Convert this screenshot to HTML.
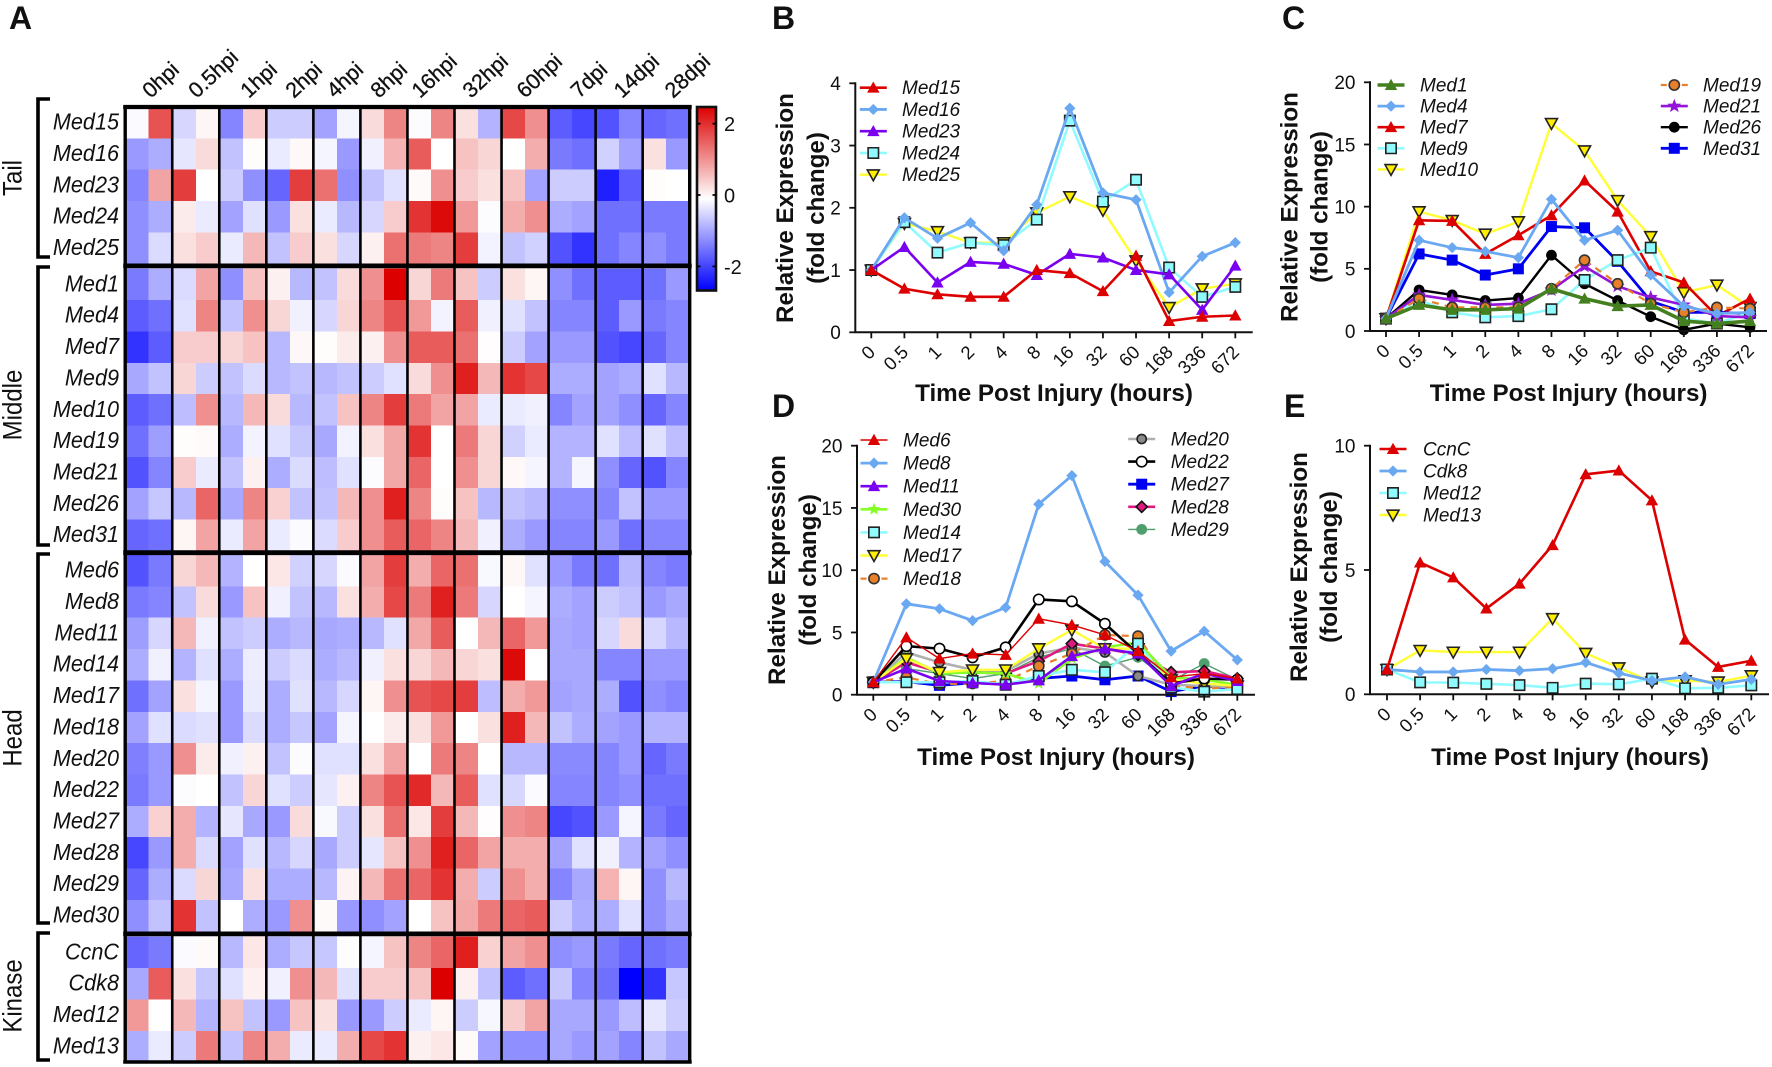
<!DOCTYPE html>
<html lang="en">
<head>
<meta charset="utf-8">
<title>Mediator subunit expression after injury</title>
<style>
html,body{margin:0;padding:0;background:#fff;width:1772px;height:1067px;overflow:hidden}
svg{display:block;font-family:"Liberation Sans",Arial,sans-serif}
text{fill:#111}
</style>
</head>
<body>
<svg id="figure" xmlns="http://www.w3.org/2000/svg" width="1772" height="1067" viewBox="0 0 1772 1067">
  <rect width="1772" height="1067" fill="#fff"/>
  <text x="9" y="29" font-size="32" font-weight="700">A</text>
  <text x="772" y="29" font-size="32" font-weight="700">B</text>
  <text x="1282" y="29" font-size="32" font-weight="700">C</text>
  <text x="772" y="417" font-size="32" font-weight="700">D</text>
  <text x="1284" y="417" font-size="32" font-weight="700">E</text>
</svg>
<script>
// ---------- Heatmap data ----------
const heatColumns = ['0hpi','0.5hpi','1hpi','2hpi','4hpi','8hpi','16hpi','32hpi','60hpi','7dpi','14dpi','28dpi'];
const colorbarTicks = [2,0,-2];

const tailGenes = ['Med15','Med16','Med23','Med24','Med25'];
const tailValues = [
[-0.05,1.7,-0.4,0.1,-1.2,0.5,-0.5,-0.5,-0.9,-0.1,0.35,1.2,-0.03,1.2,0.3,-0.75,1.8,1.1,-1.6,-1.8,-1.7,-1.2,-1.5,-1.4],
[-1.0,-0.8,-0.25,0.35,-0.6,0.03,-0.2,0.07,-0.1,-1.0,-0.15,0.75,1.6,0,0.6,0.4,0,0.8,-1.3,-1.4,-0.45,-0.9,0.3,-1.0],
[-1.2,0.9,1.9,0,-0.5,-1.1,-1.5,1.9,1.4,-1.1,-0.6,-0.3,0.05,1.1,0.5,0.3,0.6,-0.9,-0.5,-0.5,-2.2,-1.6,0.03,0],
[-1.1,-0.8,0.2,-0.2,-0.9,-0.3,-1.0,0.3,-0.2,-0.7,-0.4,0.5,2.0,2.4,1.0,-0.03,0.8,1.1,-0.8,-0.9,-1.4,-1.4,-1.3,-1.3],
[-1.1,-0.35,0.3,0.5,-0.2,0.7,-0.6,0.5,0.3,-0.4,0.15,1.4,1.3,1.2,1.9,-0.12,-0.6,-0.45,-1.7,-2.0,-1.4,-1.2,-1.1,-1.3]
];

const middleGenes = ['Med1','Med4','Med7','Med9','Med10','Med19','Med21','Med26','Med31'];
const middleValues = [
[-1.3,-0.8,-0.35,0.9,-1.1,0.6,0.15,-0.7,-0.6,0.35,1.1,2.5,0.4,1.3,0.6,-0.5,0.3,0.1,-1.1,-1.4,-1.6,-1.6,-1.4,-1.0],
[-1.6,-1.4,-0.3,1.2,-0.6,1.1,0.4,-0.15,-0.4,0.4,1.2,1.7,1.0,-0.12,1.6,-0.15,-0.3,-0.6,-1.2,-1.2,-1.6,-1.0,-1.3,-1.2],
[-2.0,-1.6,0.5,0.5,0.4,0.6,-0.7,0.08,0.03,0.2,0.15,1.1,1.6,1.6,1.4,0.02,-0.5,-0.9,-1.0,-1.0,-1.7,-1.8,-1.5,-1.2],
[-0.85,-0.6,0.4,-0.5,-0.6,-0.35,-0.7,-0.6,-0.7,-0.6,-0.5,-0.3,0.35,1.1,2.2,0.7,2.0,1.8,-0.8,-0.8,-0.9,-0.8,-0.3,-0.7],
[-1.6,-1.4,-0.65,1.1,-0.7,0.7,0.35,-0.7,-0.6,0.6,1.2,1.9,1.3,0.9,0.9,-0.2,-0.2,-0.15,-1.2,-0.9,-0.9,-1.1,-1.5,-1.2],
[-1.4,-0.95,0.03,0.05,-0.8,-0.12,-0.3,-0.55,-0.85,-0.12,0.3,0.85,2.0,0,1.3,0.4,-0.45,-0.2,-0.75,-0.75,-0.3,-0.65,-0.3,-0.65],
[-1.7,-1.2,0.5,-0.2,-0.6,0.15,-0.8,-0.35,-0.65,-0.3,-0.03,0.85,1.5,0,1.1,0.4,0.07,-0.1,-0.75,-0.1,-1.1,-1.5,-1.7,-1.2],
[-0.9,-0.55,-0.7,1.5,-0.85,1.2,0.45,-0.6,-0.6,0.7,1.1,2.2,1.2,0.03,0.6,-0.7,-0.6,-0.7,-1.1,-1.1,-1.2,-0.6,-1.0,-1.0],
[-1.5,-1.4,0.1,0.9,-0.2,0.9,-0.2,-0.05,-0.35,0.5,1.1,1.6,1.5,1.2,0.7,-0.15,-0.8,-1.0,-1.2,-1.2,-1.0,-1.4,-1.2,-1.2]
];

const headGenes = ['Med6','Med8','Med11','Med14','Med17','Med18','Med20','Med22','Med27','Med28','Med29','Med30'];
const headValues = [
[-1.7,-1.3,0.4,0.7,-0.75,0,0.25,-0.45,-0.4,-0.05,0.9,1.9,0.8,1.5,1.4,-0.07,0.08,-0.3,-1.0,-1.3,-1.4,-0.7,-1.2,-1.3],
[-1.3,-1.2,-0.6,0.35,-1.0,0.6,-0.15,-0.6,-0.7,0.3,0.8,1.8,1.3,2.2,1.3,-0.4,0,-0.1,-0.8,-0.9,-0.5,-0.6,-1.0,-0.85],
[-0.95,-0.4,0.7,-0.15,-0.6,-0.5,-0.8,-0.7,-0.85,-0.8,-0.7,-0.3,0.85,1.6,0,0.7,1.5,1.0,-0.85,-0.9,-0.4,0.35,-0.4,-0.7],
[-0.8,-0.15,-0.75,-0.3,-0.8,-0.18,-0.5,-0.35,-0.8,-0.7,-0.15,0.3,0.4,0.7,0.4,0.3,2.4,0,-0.85,-0.85,-1.2,-1.2,-1.0,-1.0],
[-1.4,-0.9,0.3,-0.1,-1.0,-0.2,-0.8,-0.3,-0.7,-0.4,0.1,1.1,1.7,1.8,1.9,-0.65,0.8,1.0,-0.9,-0.85,-0.8,-1.7,-1.1,-1.2],
[-0.9,-0.3,-0.35,-0.3,-1.0,-0.35,-0.8,-0.55,-0.9,-0.1,0,0.2,0.3,1.0,0,0.3,2.2,0.7,-0.6,-0.8,-0.9,-1.0,-0.75,-0.75],
[-1.25,-1.0,1.1,0.2,-0.15,0.15,-0.6,-0.03,-0.3,-0.3,0.3,0.9,0,1.3,1.2,0,-0.7,-0.7,-1.15,-1.15,-1.2,-1.0,-1.5,-1.3],
[-1.3,-1.0,-0.03,0,-0.6,0.4,-0.3,-0.5,-0.25,0.15,1.2,1.7,2.1,0.7,1.6,-0.3,-0.4,-0.05,-1.2,-1.2,-1.2,-1.1,-1.4,-1.4],
[-0.8,0.45,0.8,-0.75,-0.25,-0.85,-1.0,0.35,-0.07,-0.5,0.3,1.4,0.25,1.9,0.7,0.02,1.1,1.2,-1.8,-1.7,-1.0,-0.1,-1.3,-1.5],
[-1.8,-1.0,0.8,-0.35,-0.9,-0.3,-0.7,-0.4,-0.85,-0.5,-0.25,0.6,1.1,2.2,1.5,0.9,0.8,0.8,-0.9,-0.3,-0.15,-0.75,-0.9,-1.1],
[-1.5,-0.8,-0.35,0.4,-0.85,0.3,-0.8,-0.8,-0.7,0.12,0.7,1.4,1.5,2.0,0.8,-0.5,1.1,0.8,-1.2,-0.85,0.75,0.1,-1.1,-0.7],
[-1.1,-0.6,2.0,-0.6,0,-0.8,-1.0,1.1,0.05,-1.0,-1.1,-0.9,0,0.6,0.85,1.3,1.5,1.6,-0.5,-0.8,-0.8,-0.3,-1.1,-0.85]
];

const kinaseGenes = ['CcnC','Cdk8','Med12','Med13'];
const kinaseValues = [
[-1.5,-1.3,-0.04,0.05,-0.7,0.25,-0.8,-0.55,-0.55,-0.02,-0.1,0.6,1.2,1.5,2.2,0.45,0.9,1.1,-1.1,-1.0,-1.3,-1.5,-1.4,-1.3],
[-0.85,1.6,0.3,-0.55,-0.3,0.15,-0.15,1.1,0.7,-0.3,0.5,0.5,0.6,2.5,0.15,-0.6,-1.6,-1.4,-0.55,-1.2,-1.4,-2.5,-2.0,-0.55],
[1.0,0,0.7,-0.75,0.6,-0.6,-1.0,0.6,0.3,-1.0,-1.0,-0.5,-0.2,0.1,-0.5,-0.08,0.5,0.9,-0.85,-0.85,-1.0,-0.65,-0.25,-0.5],
[-0.8,-0.2,-0.5,1.3,-0.6,1.2,0.8,-0.2,-0.2,0.8,1.8,2.0,0.15,0.25,0.05,-0.9,-1.1,-1.1,-0.85,-1.0,-0.9,-1.2,-0.6,-0.85]
];

// ---------- Line chart data ----------
const timeLabels = ['0','0.5','1','2','4','8','16','32','60','168','336','672'];
const ticksTo4 = [0,1,2,3,4];
const ticksTo20 = [0,5,10,15,20];
const ticksTo10 = [0,5,10];

const bMed15 = [1,0.7,0.61,0.57,0.57,1.0,0.95,0.66,1.23,0.18,0.25,0.27];
const bMed16 = [1,1.84,1.51,1.76,1.31,2.05,3.6,2.24,2.13,0.64,1.22,1.44];
const bMed23 = [1,1.37,0.8,1.13,1.1,0.92,1.26,1.2,1.0,0.93,0.36,1.07];
const bMed24 = [1,1.77,1.28,1.44,1.4,1.81,3.4,2.1,2.45,1.04,0.57,0.73];
const bMed25 = [1,1.75,1.62,1.44,1.44,1.92,2.18,1.96,1.15,0.4,0.7,0.78];

const cMed1 = [1,2.1,1.7,1.7,1.8,3.4,2.6,2.0,2.1,0.8,0.6,0.8];
const cMed4 = [1,7.3,6.7,6.4,5.9,10.6,7.3,8.1,4.5,2.0,1.4,1.5];
const cMed7 = [1,8.9,8.85,6.2,7.7,9.3,12.1,9.6,4.8,3.9,1.2,2.6];
const cMed9 = [1,2.5,1.5,1.1,1.2,1.75,4.1,5.7,6.7,1.0,0.6,1.5];
const cMed10 = [1,9.6,8.9,7.8,8.8,16.7,14.5,10.5,7.6,3.1,3.7,1.9];
const cMed19 = [1,2.6,1.9,1.9,1.9,3.4,5.7,3.8,2.2,1.5,1.9,1.8];
const cMed21 = [1,2.9,2.5,2.1,2.2,3.3,5.2,3.6,2.7,2.1,1.2,1.1];
const cMed26 = [1,3.3,2.9,2.45,2.65,6.1,3.8,2.45,1.15,0.1,0.6,0.3];
const cMed31 = [1,6.2,5.7,4.5,5.0,8.4,8.3,5.6,2.4,1.5,1.5,1.4];

const dMed6 = [1,4.6,2.9,3.3,3.2,6.1,5.6,4.8,3.5,1.4,1.7,1.3];
const dMed8 = [1,7.3,6.9,5.95,7.0,15.3,17.6,10.7,8.0,3.5,5.1,2.8];
const dMed11 = [1,2.1,1.1,0.95,0.8,1.15,3.1,3.7,3.3,0.7,1.7,1.1];
const dMed30 = [1,3.0,1.7,1.8,1.7,0.9,2.9,3.8,4.2,1.4,1.2,0.8];
const dMed14 = [1,1.0,1.0,1.1,0.8,1.5,2.0,1.8,4.1,0.6,0.25,0.45];
const dMed17 = [1,2.9,1.8,2.0,2.0,3.7,5.2,3.7,3.7,1.2,0.9,0.7];
const dMed18 = [1,1.4,0.85,0.9,1.1,2.3,3.3,4.8,4.7,0.7,0.5,0.6];
const dMed20 = [1,3.4,2.6,2.0,1.9,3.3,3.8,3.4,1.5,0.8,0.7,0.6];
const dMed22 = [1,3.9,3.7,3.0,3.8,7.65,7.5,5.7,3.3,0.9,1.3,1.2];
const dMed27 = [1,1.05,0.75,0.95,0.85,1.3,1.5,1.2,1.5,0.25,0.7,0.5];
const dMed28 = [1,2.6,1.8,1.8,1.7,2.7,4.1,3.7,3.2,1.8,1.9,1.3];
const dMed29 = [1,2.1,1.7,1.3,1.7,3.0,3.7,2.3,3.0,1.1,2.5,1.2];

const eCcnC = [1,5.3,4.7,3.45,4.45,6.0,8.85,9.0,7.8,2.2,1.1,1.35];
const eCdk8 = [1,0.9,0.9,1.0,0.95,1.03,1.28,0.85,0.55,0.7,0.4,0.6];
const eMed12 = [1,0.48,0.47,0.42,0.37,0.26,0.43,0.4,0.63,0.24,0.26,0.36];
const eMed13 = [1,1.77,1.7,1.7,1.7,3.05,1.65,1.07,0.5,0.55,0.5,0.75];

// ---------- Helpers ----------
const SVGNS = 'http://www.w3.org/2000/svg';
const root = document.getElementById('figure');
function make(tag, attrs, parent, text) {
  const el = document.createElementNS(SVGNS, tag);
  for (const k in attrs) el.setAttribute(k, attrs[k]);
  if (text !== undefined) el.textContent = text;
  (parent || root).appendChild(el);
  return el;
}
function slug(s) { return s.toLowerCase().replace(/[^a-z0-9]+/g, '-'); }

// ---------- Heatmap ----------
const heatLeft = 125.2, heatRight = 689.7, heatTop = 107, heatBottom = 1062;
const groupWidth = (heatRight - heatLeft) / heatColumns.length;
const cellWidth = groupWidth / 2;
const rowHeight = 31.35;
function heatX(c) { return heatLeft + c * cellWidth; }
function heatColor(v) {
  const t = Math.min(1, Math.abs(v) / 2.5);
  const fade = Math.round(255 * (1 - t));
  if (v >= 0) return 'rgb(' + Math.round(255 - 35 * t) + ',' + fade + ',' + fade + ')';
  return 'rgb(' + fade + ',' + fade + ',255)';
}
const heatGroup = make('g', {});



function drawHeatGroup(title, genes, values, startY, titleY, bracketTop, bracketBottom) {
  const g = make('g', {}, heatGroup);
  
  
  values.forEach(function (row, r) {
    const y = startY + r * rowHeight;
    row.forEach(function (v, c) {
      const cell = make('rect', {x: heatX(c), y: y, width: cellWidth + 0.4, height: rowHeight + 0.4, fill: heatColor(v), 'shape-rendering': 'crispEdges'}, g);
      
      
    });
    const label = make('text', {transform: 'translate(119,' + (y + rowHeight / 2 + 7) + ') scale(0.94,1)', 'text-anchor': 'end', 'font-size': 23, 'font-style': 'italic'}, g, genes[r]);
    
    
  });
  const bracket = make('path', {d: 'M50 ' + bracketTop + 'H38V' + bracketBottom + 'H50', fill: 'none', stroke: '#000', 'stroke-width': 3.6}, g);
  
  
  const t = make('text', {transform: 'translate(21.5,' + titleY + ') rotate(-90) scale(1,1.1)', 'text-anchor': 'middle', 'font-size': 24}, g, title);
  
  
}
drawHeatGroup('Tail', tailGenes, tailValues, 107, 178, 99, 257);
drawHeatGroup('Middle', middleGenes, middleValues, 268.7, 405, 267, 545);
drawHeatGroup('Head', headGenes, headValues, 555, 738, 554, 923);
drawHeatGroup('Kinase', kinaseGenes, kinaseValues, 936.7, 996, 933, 1060);

// separators and frame
heatColumns.forEach(function (name, i) {
  if (i > 0) {
    const x = heatLeft + i * groupWidth;
    const sep = make('line', {x1: x, x2: x, y1: heatTop, y2: heatBottom, stroke: '#000', 'stroke-width': 2.6}, heatGroup);
    
    
  }
});
[heatLeft, heatRight].forEach(function (x, i) {
  const edge = make('line', {x1: x, x2: x, y1: heatTop - 2, y2: heatBottom + 1, stroke: '#000', 'stroke-width': 3.4}, heatGroup);
  
  
});
[[107, 4.2], [265.9, 4.8], [552.7, 4.8], [933.9, 4.8], [1062, 3.6]].forEach(function (d, i) {
  const bar = make('line', {x1: heatLeft - 2, x2: heatRight + 2, y1: d[0], y2: d[0], stroke: '#000', 'stroke-width': d[1]}, heatGroup);
  
  
});

// column labels
heatColumns.forEach(function (name, i) {
  const extra = [1, 0, 5, 3, -3, -6, -12, -8, -1, 6, 2, 6][i];
  const x = heatLeft + i * groupWidth + 24.5 + extra;
  const t = make('text', {transform: 'translate(' + x + ',99) rotate(-43)', 'font-size': 21.5, stroke: '#111', 'stroke-width': 0.3}, heatGroup, name);
  
  
});

// colorbar
const defs = make('defs', {});
const grad = make('linearGradient', {id: 'cbGrad', x1: 0, x2: 0, y1: 0, y2: 1}, defs);
make('stop', {offset: '0', 'stop-color': '#dc0000'}, grad);
make('stop', {offset: '0.5', 'stop-color': '#ffffff'}, grad);
make('stop', {offset: '1', 'stop-color': '#0000ff'}, grad);
const cbTop = 107, cbBottom = 290.5, cbLeft = 697, cbRight = 716;
function cbY(v) { return 195 - v * 35.7; }
const cbG = make('g', {});


const cbRect = make('rect', {x: cbLeft, y: cbTop, width: cbRight - cbLeft, height: cbBottom - cbTop, fill: 'url(#cbGrad)', stroke: '#111', 'stroke-width': 2.6}, cbG);


colorbarTicks.forEach(function (v) {
  const tick = make('path', {d: 'M' + cbLeft + ' ' + cbY(v) + 'h3.5M' + cbRight + ' ' + cbY(v) + 'h-3.5', stroke: '#000', 'stroke-width': 1.8}, cbG);
  
  
  const lab = make('text', {x: 724, y: cbY(v) + 7.5, 'font-size': 20}, cbG, String(v));
  
  
});

// ---------- Series styles ----------
const RED = '#dc0000', SKY = '#6aa8f2', VIOLET = '#7a00f0', CYAN = '#8ffbff', YEL = '#ffee00', LINEY = '#ffff33';
const styles = {
  red: {line: RED, w: 2.6, fill: RED, edge: 'none', shape: 'up', r: 6.2},
  redThin: {line: RED, w: 1.4, fill: RED, edge: 'none', shape: 'up', r: 6.2},
  sky: {line: SKY, w: 2.8, fill: SKY, edge: 'none', shape: 'diamond', r: 5.6},
  violet: {line: VIOLET, w: 2.6, fill: VIOLET, edge: 'none', shape: 'up', r: 6.2},
  cyan: {line: CYAN, w: 2.6, fill: CYAN, edge: '#222', shape: 'square', r: 5.2},
  yellow: {line: LINEY, w: 2.4, fill: YEL, edge: '#222', shape: 'down', r: 6},
  green: {line: '#44801f', w: 3.6, fill: '#44801f', edge: 'none', shape: 'up', r: 6.2},
  orange: {line: '#e8802a', w: 2.2, dash: '7 6', fill: '#e8802a', edge: '#333', shape: 'circle', r: 5.1},
  starViolet: {line: '#9414d8', w: 2.6, fill: '#9414d8', edge: 'none', shape: 'star', r: 7.4},
  black: {line: '#000', w: 2.4, fill: '#000', edge: 'none', shape: 'circle', r: 5.4},
  blue: {line: '#0000f0', w: 2.8, fill: '#0000f0', edge: 'none', shape: 'square', r: 5.5},
  grey: {line: '#b0b0b0', w: 2.6, fill: '#8a8a8a', edge: '#222', shape: 'circle', r: 4.6},
  white: {line: '#000', w: 2.6, fill: '#fff', edge: '#000', shape: 'circle', r: 5.2},
  magenta: {line: '#e0187f', w: 2.6, fill: '#e0187f', edge: '#111', shape: 'diamond', r: 5.6},
  teal: {line: '#4f9e6d', w: 1.4, fill: '#4f9e6d', edge: 'none', shape: 'circle', r: 5.4},
  lime: {line: '#86ff28', w: 2.6, fill: '#86ff28', edge: 'none', shape: 'star', r: 6.6}
};
function markerPath(s, x, y) {
  const r = s.r;
  if (s.shape === 'up') return 'M' + x + ' ' + (y - r) + 'L' + (x + r) + ' ' + (y + r * 0.8) + 'L' + (x - r) + ' ' + (y + r * 0.8) + 'Z';
  if (s.shape === 'down') return 'M' + x + ' ' + (y + r) + 'L' + (x + r) + ' ' + (y - r * 0.8) + 'L' + (x - r) + ' ' + (y - r * 0.8) + 'Z';
  if (s.shape === 'diamond') return 'M' + x + ' ' + (y - r) + 'L' + (x + r) + ' ' + y + 'L' + x + ' ' + (y + r) + 'L' + (x - r) + ' ' + y + 'Z';
  if (s.shape === 'square') return 'M' + (x - r) + ' ' + (y - r) + 'h' + (2 * r) + 'v' + (2 * r) + 'h' + (-2 * r) + 'Z';
  if (s.shape === 'star') {
    let d = '';
    for (let i = 0; i < 10; i++) {
      const a = -Math.PI / 2 + i * Math.PI / 5;
      const q = i % 2 ? r * 0.42 : r;
      d += (i ? 'L' : 'M') + (x + q * Math.cos(a)).toFixed(2) + ' ' + (y + q * Math.sin(a)).toFixed(2);
    }
    return d + 'Z';
  }
  return 'M' + (x - r) + ' ' + y + 'a' + r + ' ' + r + ' 0 1 0 ' + (2 * r) + ' 0a' + r + ' ' + r + ' 0 1 0 ' + (-2 * r) + ' 0Z';
}
function markerAttrs(s, x, y) {
  return {d: markerPath(s, x, y), fill: s.fill, stroke: s.edge, 'stroke-width': s.edge === 'none' ? 0 : 1.6};
}

// ---------- Line panels ----------
function drawPanel(cfg) {
  const g = make('g', {});
  
  
  const step = (cfg.x672 - cfg.x0) / (timeLabels.length - 1);
  const xScale = function (i) { return cfg.x0 + i * step; };
  const yScale = function (v) { return cfg.yZero - (v / cfg.yMax) * (cfg.yZero - cfg.yTop); };

  cfg.series.forEach(function (entry) {
    const name = entry[0], vals = entry[1], s = styles[entry[2]];
    const sg = make('g', {}, g);
    
    
    const pts = vals.map(function (v, i) { return xScale(i).toFixed(2) + ',' + yScale(v).toFixed(2); }).join(' ');
    const attrs = {points: pts, fill: 'none', stroke: s.line, 'stroke-width': s.w, 'stroke-linejoin': 'round'};
    if (s.dash) attrs['stroke-dasharray'] = s.dash;
    const line = make('polyline', attrs, sg);
    
    
    vals.forEach(function (v, i) {
      const m = make('path', markerAttrs(s, xScale(i), yScale(v)), sg);
      
      
    });
  });

  const axis = make('path', {d: 'M' + cfg.axisX + ' ' + (cfg.yTop - 1) + 'V' + cfg.yZero + 'H' + cfg.axisEnd, fill: 'none', stroke: '#111', 'stroke-width': 2}, g);
  
  

  cfg.ticks.forEach(function (v) {
    const y = yScale(v);
    const tick = make('line', {x1: cfg.axisX - 6, x2: cfg.axisX, y1: y, y2: y, stroke: '#111', 'stroke-width': 1.8}, g);
    
    
    const lab = make('text', {x: cfg.axisX - 14.5, y: y + 6.8, 'text-anchor': 'end', 'font-size': 19}, g, String(v));
    
    
  });
  timeLabels.forEach(function (name, i) {
    const x = xScale(i);
    const tick = make('line', {x1: x, x2: x, y1: cfg.yZero, y2: cfg.yZero + 6, stroke: '#111', 'stroke-width': 1.8}, g);
    
    
    const lab = make('text', {transform: 'translate(' + (x + 5) + ',' + (cfg.yZero + 21) + ') rotate(-45)', 'text-anchor': 'end', 'font-size': 18.5}, g, name);
    
    
  });

  const xt = make('text', {x: cfg.xTitleX, y: cfg.xTitleY, 'text-anchor': 'middle', 'font-size': 24.2, 'font-weight': 700}, g, 'Time Post Injury (hours)');
  
  
  const yt1 = make('text', {transform: 'translate(' + cfg.yTitleX1 + ',' + cfg.yTitleY + ') rotate(-90)', 'text-anchor': 'middle', 'font-size': 24.2, 'font-weight': 700}, g, 'Relative Expression');
  
  
  const yt2 = make('text', {transform: 'translate(' + cfg.yTitleX2 + ',' + cfg.yTitleY + ') rotate(-90)', 'text-anchor': 'middle', 'font-size': 24.2, 'font-weight': 700}, g, '(fold change)');
  
  

  cfg.legend.forEach(function (col) {
    col.names.forEach(function (pair, r) {
      const name = pair[0], s = styles[pair[1]], y = col.y0 + r * col.dy;
      const le = make('g', {}, g);
      
      
      const a = {x1: col.mx - 13.5, x2: col.mx + 13.5, y1: y, y2: y, stroke: s.line, 'stroke-width': s.w};
      if (s.dash) a['stroke-dasharray'] = '6 15 6';
      make('line', a, le);
      make('path', markerAttrs(s, col.mx, y), le);
      make('text', {x: col.tx, y: y + 6.5, 'font-size': 19, 'font-style': 'italic'}, le, name);
    });
  });
}

drawPanel({
  id: 'b', x0: 871.3, x672: 1235.3, yTop: 83.3, yZero: 332.3, yMax: 4, axisX: 855.3, axisEnd: 1252.7, ticks: ticksTo4,
  xTitleX: 1054, xTitleY: 401, yTitleX1: 793, yTitleX2: 824, yTitleY: 208,
  series: [['Med25', bMed25, 'yellow'], ['Med24', bMed24, 'cyan'], ['Med16', bMed16, 'sky'], ['Med23', bMed23, 'violet'], ['Med15', bMed15, 'red']],
  legend: [{mx: 873.3, tx: 902, y0: 87.7, dy: 21.75, names: [['Med15', 'red'], ['Med16', 'sky'], ['Med23', 'violet'], ['Med24', 'cyan'], ['Med25', 'yellow']]}]
});
drawPanel({
  id: 'c', x0: 1386, x672: 1750, yTop: 82.3, yZero: 331, yMax: 20, axisX: 1370, axisEnd: 1767, ticks: ticksTo20,
  xTitleX: 1568.6, xTitleY: 401, yTitleX1: 1297.5, yTitleX2: 1327.5, yTitleY: 207,
  series: [['Med10', cMed10, 'yellow'], ['Med7', cMed7, 'red'], ['Med31', cMed31, 'blue'], ['Med26', cMed26, 'black'], ['Med9', cMed9, 'cyan'], ['Med21', cMed21, 'starViolet'], ['Med19', cMed19, 'orange'], ['Med4', cMed4, 'sky'], ['Med1', cMed1, 'green']],
  legend: [
    {mx: 1391, tx: 1420, y0: 85, dy: 21.1, names: [['Med1', 'green'], ['Med4', 'sky'], ['Med7', 'red'], ['Med9', 'cyan'], ['Med10', 'yellow']]},
    {mx: 1674.3, tx: 1703, y0: 85, dy: 21.1, names: [['Med19', 'orange'], ['Med21', 'starViolet'], ['Med26', 'black'], ['Med31', 'blue']]}
  ]
});
drawPanel({
  id: 'd', x0: 873.3, x672: 1237.3, yTop: 445.7, yZero: 694.7, yMax: 20, axisX: 857, axisEnd: 1255, ticks: ticksTo20,
  xTitleX: 1056, xTitleY: 765, yTitleX1: 785, yTitleX2: 816, yTitleY: 570,
  series: [['Med29', dMed29, 'teal'], ['Med27', dMed27, 'blue'], ['Med20', dMed20, 'grey'], ['Med28', dMed28, 'magenta'], ['Med18', dMed18, 'orange'], ['Med30', dMed30, 'lime'], ['Med17', dMed17, 'yellow'], ['Med14', dMed14, 'cyan'], ['Med22', dMed22, 'white'], ['Med8', dMed8, 'sky'], ['Med11', dMed11, 'violet'], ['Med6', dMed6, 'redThin']],
  legend: [
    {mx: 874, tx: 903, y0: 440, dy: 23.1, names: [['Med6', 'redThin'], ['Med8', 'sky'], ['Med11', 'violet'], ['Med30', 'lime'], ['Med14', 'cyan'], ['Med17', 'yellow'], ['Med18', 'orange']]},
    {mx: 1141.7, tx: 1170.7, y0: 439, dy: 22.6, names: [['Med20', 'grey'], ['Med22', 'white'], ['Med27', 'blue'], ['Med28', 'magenta'], ['Med29', 'teal']]}
  ]
});
drawPanel({
  id: 'e', x0: 1387, x672: 1751.3, yTop: 445.7, yZero: 694.3, yMax: 10, axisX: 1370, axisEnd: 1769, ticks: ticksTo10,
  xTitleX: 1570, xTitleY: 765, yTitleX1: 1307, yTitleX2: 1337, yTitleY: 567,
  series: [['Med13', eMed13, 'yellow'], ['Med12', eMed12, 'cyan'], ['Cdk8', eCdk8, 'sky'], ['CcnC', eCcnC, 'red']],
  legend: [{mx: 1393, tx: 1423, y0: 449, dy: 22, names: [['CcnC', 'red'], ['Cdk8', 'sky'], ['Med12', 'cyan'], ['Med13', 'yellow']]}]
});
</script>
</body>
</html>
